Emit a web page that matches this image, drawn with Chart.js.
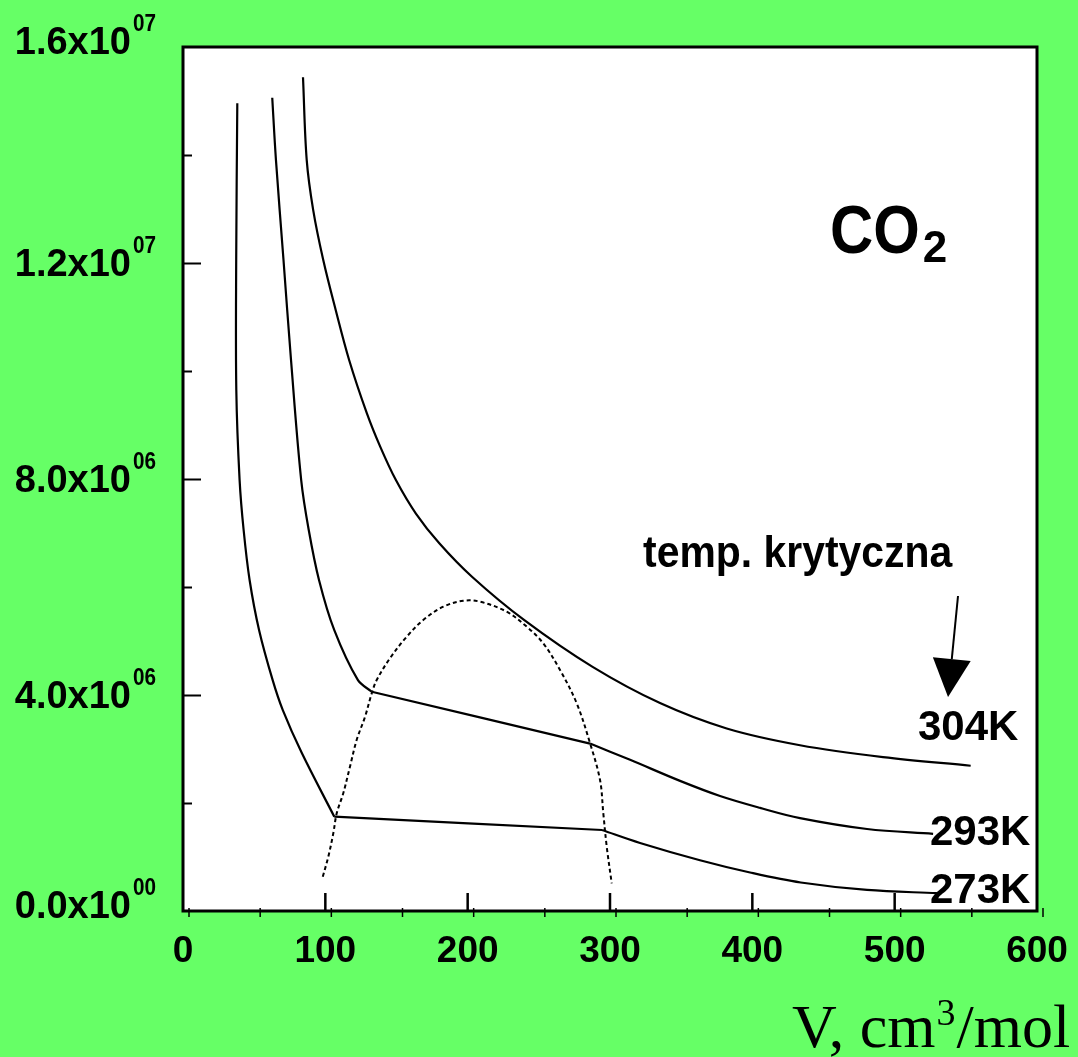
<!DOCTYPE html>
<html>
<head>
<meta charset="utf-8">
<script src="https://cdn.jsdelivr.net/npm/chart.js@4.4.1/dist/chart.umd.min.js"></script>
<style>
  html, body { margin: 0; padding: 0; background: #66ff66; }
  #wrap { width: 1078px; height: 1057px; }
</style>
</head>
<body>
<div id="wrap"><canvas id="co2Chart" width="1078" height="1057"></canvas></div>
<script>
  // isotherm data: V in cm3/mol, P in Pa
  const v273 = [38.15, 37.38, 37.45, 39.77, 42.58, 46.79, 53.47, 62.95, 70.12, 83.40, 106.3, 294.4, 321.1, 363.2, 398.4, 434.0, 480.6, 529.7];
  const p273 = [1.496e7, 1.206e7, 9.65e6, 7.98e6, 7.06e6, 6.13e6, 5.20e6, 4.28e6, 3.72e6, 2.93e6, 1.746e6, 1.50e6, 1.26e6, 9.4e5, 7.13e5, 5.28e5, 3.9e5, 3.3e5];
  const corners273 = [10, 11];

  const v293 = [62.7, 65.3, 70.6, 75.9, 83.04, 88.31, 95.55, 106.3, 122.81, 132.6, 286.0, 314.1, 349.2, 377.3, 405.4, 433.5, 480.6, 527.0];
  const p293 = [1.506e7, 1.391e7, 1.206e7, 1.020e7, 7.98e6, 7.06e6, 6.13e6, 5.20e6, 4.28e6, 4.06e6, 3.10e6, 2.80e6, 2.41e6, 2.13e6, 1.91e6, 1.72e6, 1.519e6, 1.43e6];
  const corners293 = [9, 10];

  const v304 = [84.31, 86.91, 91.48, 98.50, 107.28, 116.77, 129.14, 138.55, 149.58, 163.63, 180.07, 203.04, 239.58, 287.78, 335.13, 382.0, 433.5, 491.8, 553.4];
  const p304 = [1.544e7, 1.391e7, 1.298e7, 1.206e7, 1.113e7, 1.020e7, 9.22e6, 8.60e6, 7.98e6, 7.36e6, 6.81e6, 6.19e6, 5.39e6, 4.52e6, 3.85e6, 3.38e6, 3.07e6, 2.85e6, 2.69e6];
  const corners304 = [];

  // two-phase boundary (dotted dome)
  const vDome = [98.2, 102.1, 105.6, 108.0, 112.6, 117.3, 122.0, 127.9, 132.6, 136.1, 145.4, 157.2, 168.8, 182.9, 196.9, 208.7, 227.4, 241.5, 253.1, 264.9, 276.6, 286.0, 293.0, 295.3, 297.7, 301.2];
  const pDome = [6.35e5, 1.006e6, 1.439e6, 1.809e6, 2.180e6, 2.672e6, 3.167e6, 3.598e6, 4.031e6, 4.278e6, 4.680e6, 5.080e6, 5.389e6, 5.635e6, 5.746e6, 5.728e6, 5.543e6, 5.265e6, 4.957e6, 4.463e6, 3.846e6, 3.105e6, 2.426e6, 1.809e6, 1.191e6, 5.13e5];

  const xTicks = [0, 100, 200, 300, 400, 500, 600];
  const yTicks = [0, 4e6, 8e6, 1.2e7, 1.6e7];

  const GREEN = "#66ff66";
  const SANS = "'Liberation Sans', Arial, sans-serif";
  const SERIF = "'Liberation Serif', 'Times New Roman', serif";

  // split an isotherm at its corners so the plateau stays straight
  function pieces(v, p, corners) {
    const idx = [0, ...corners, v.length - 1];
    const out = [];
    for (let i = 0; i < idx.length - 1; i++) {
      const pts = [];
      for (let j = idx[i]; j <= idx[i + 1]; j++) pts.push({ x: v[j], y: p[j] });
      out.push(pts);
    }
    return out;
  }

  const datasets = [];
  [[v273, p273, corners273], [v293, p293, corners293], [v304, p304, corners304]].forEach(([v, p, c]) => {
    pieces(v, p, c).forEach((pts) => {
      datasets.push({
        data: pts,
        borderColor: "#000",
        borderWidth: 2.2,
        pointRadius: 0,
        tension: 0.35,
        fill: false,
      });
    });
  });
  datasets.push({
    data: vDome.map((v, i) => ({ x: v, y: pDome[i] })),
    borderColor: "#000",
    borderWidth: 2,
    borderDash: [4, 3],
    pointRadius: 0,
    tension: 0.35,
    fill: false,
  });

  function squeezeText(ctx, text, x, y, sx) {
    ctx.save();
    ctx.translate(x, y);
    ctx.scale(sx, 1);
    ctx.fillText(text, 0, 0);
    ctx.restore();
  }

  const background = {
    id: "background",
    beforeDraw(chart) {
      const { ctx, chartArea: a } = chart;
      ctx.save();
      ctx.fillStyle = GREEN;
      ctx.fillRect(0, 0, chart.width, chart.height);
      ctx.fillStyle = "#fff";
      ctx.fillRect(a.left, a.top, a.right - a.left, a.bottom - a.top);
      ctx.restore();
    },
  };

  const decorations = {
    id: "decorations",
    afterDraw(chart) {
      const { ctx, chartArea: a } = chart;
      const xs = chart.scales.x, ys = chart.scales.y;
      ctx.save();
      ctx.strokeStyle = "#000";
      ctx.fillStyle = "#000";

      // frame
      ctx.lineWidth = 3;
      ctx.strokeRect(a.left, a.top, a.right - a.left, a.bottom - a.top);

      // y ticks, inward
      ctx.lineWidth = 2;
      for (let v = 2e6; v < 1.6e7; v += 2e6) {
        const py = Math.round(ys.getPixelForValue(v)) + 0.5;
        const len = v % 4e6 === 0 ? 18 : 9;
        ctx.beginPath();
        ctx.moveTo(a.left, py);
        ctx.lineTo(a.left + len, py);
        ctx.stroke();
      }
      // x ticks, inward majors
      ctx.lineWidth = 2.5;
      for (let v = 100; v < 600; v += 100) {
        const px = xs.getPixelForValue(v);
        ctx.beginPath();
        ctx.moveTo(px, a.bottom);
        ctx.lineTo(px, a.bottom - 18);
        ctx.stroke();
      }
      // small outward ticks, slightly shifted as in the original
      ctx.lineWidth = 1.5;
      for (let v = 0; v <= 600; v += 50) {
        const px = xs.getPixelForValue(v) + 6;
        ctx.beginPath();
        ctx.moveTo(px, a.bottom - 3);
        ctx.lineTo(px, a.bottom + 6);
        ctx.stroke();
      }

      // x labels
      ctx.font = "bold 37px " + SANS;
      ctx.textAlign = "center";
      ctx.textBaseline = "alphabetic";
      xTicks.forEach((v) => {
        ctx.fillText(String(v), xs.getPixelForValue(v), a.bottom + 51);
      });

      // y labels with superscript exponent
      yTicks.forEach((v, i) => {
        const py = ys.getPixelForValue(v);
        const e = v === 0 ? 0 : Math.floor(Math.log10(v));
        const m = v === 0 ? 0 : v / Math.pow(10, e);
        let base = py + 13;
        if (i === 0 || i === yTicks.length - 1) base -= 6;
        ctx.textAlign = "right";
        ctx.font = "bold 38px " + SANS;
        ctx.fillText(m.toFixed(1) + "x10", 131, base);
        ctx.textAlign = "left";
        ctx.font = "bold 23px " + SANS;
        squeezeText(ctx, String(e).padStart(2, "0"), 133, base - 23, 0.9);
      });

      // axis title
      ctx.textAlign = "left";
      let tx = 792;
      const ty = 1047;
      ctx.font = "62px " + SERIF;
      ctx.fillText("V, cm", tx, ty);
      tx += ctx.measureText("V, cm").width + 1;
      ctx.font = "38px " + SERIF;
      ctx.fillText("3", tx, ty - 22);
      tx += ctx.measureText("3").width + 1;
      ctx.font = "62px " + SERIF;
      ctx.fillText("/mol", tx, ty);

      // CO2
      const cx = xs.getPixelForValue(454.6), cy = ys.getPixelForValue(1.2185e7);
      ctx.font = "bold 68px " + SANS;
      squeezeText(ctx, "CO", cx, cy, 0.88);
      const coW = ctx.measureText("CO").width * 0.88;
      ctx.font = "bold 44px " + SANS;
      ctx.fillText("2", cx + coW + 3, cy + 9);

      // temperature labels
      ctx.font = "bold 42px " + SANS;
      [["304K", 516.4, 3.17e6], ["293K", 524.8, 1.222e6], ["273K", 524.8, 1.48e5]].forEach(([t, v, p]) => {
        ctx.fillText(t, xs.getPixelForValue(v), ys.getPixelForValue(p));
      });

      // critical temperature note and arrow
      ctx.font = "bold 44px " + SANS;
      squeezeText(ctx, "temp. krytyczna", xs.getPixelForValue(323.2), ys.getPixelForValue(6.37e6), 0.93);

      const x0 = xs.getPixelForValue(544.5), y0 = ys.getPixelForValue(5.833e6);
      const x1 = xs.getPixelForValue(537.5), y1 = ys.getPixelForValue(3.963e6);
      const dx = x1 - x0, dy = y1 - y0, L = Math.hypot(dx, dy);
      const ux = dx / L, uy = dy / L;
      const bx = x1 - ux * 38, by = y1 - uy * 38;
      ctx.lineWidth = 2;
      ctx.beginPath();
      ctx.moveTo(x0, y0);
      ctx.lineTo(bx, by);
      ctx.stroke();
      ctx.beginPath();
      ctx.moveTo(x1, y1);
      ctx.lineTo(bx - uy * 19, by + ux * 19);
      ctx.lineTo(bx + uy * 19, by - ux * 19);
      ctx.closePath();
      ctx.fill();

      ctx.restore();
    },
  };

  const ctx = document.getElementById("co2Chart").getContext("2d");
  const myChart = new Chart(ctx, {
    type: "line",
    data: { datasets: datasets },
    options: {
      responsive: false,
      animation: false,
      devicePixelRatio: 1,
      layout: { padding: { left: 183, top: 47, right: 41, bottom: 146 } },
      scales: {
        x: { type: "linear", min: 0, max: 600, display: false },
        y: { type: "linear", min: 0, max: 1.6e7, display: false },
      },
      plugins: { legend: { display: false }, tooltip: { enabled: false } },
    },
    plugins: [background, decorations],
  });
</script>
</body>
</html>
